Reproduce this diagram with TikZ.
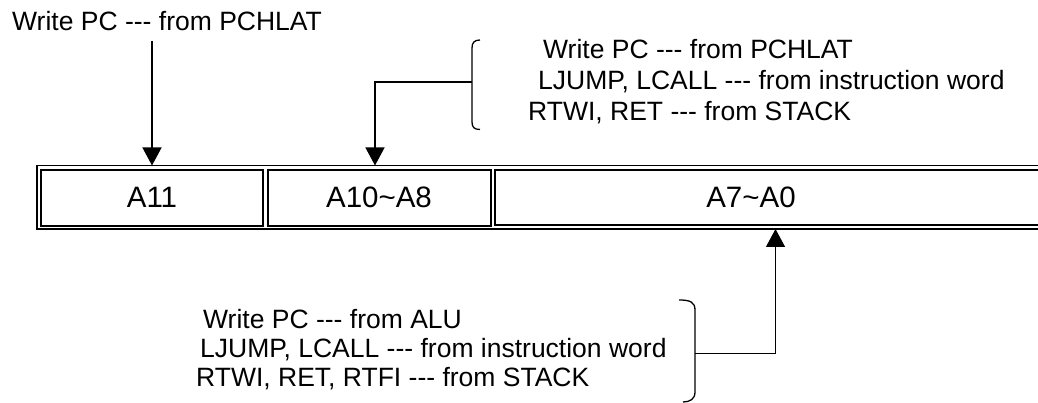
\documentclass[tikz,border=0pt]{standalone}
\usepackage{fontspec}
\newfontfamily\arialf{Liberation Sans}
\usetikzlibrary{arrows.meta}
\begin{document}
\begin{tikzpicture}[x=1pt,y=-1pt,
  lbl/.style={anchor=base west,inner sep=0pt,font=\arialf\fontsize{26.5}{30}\selectfont},
  celltxt/.style={inner sep=0pt,font=\arialf\fontsize{29.5}{32}\selectfont},
  cellbox/.style={draw,line width=2pt},
  conn/.style={line width=1.3pt},
  arr/.style={conn,-{Triangle[width=19pt,length=18pt]}},
  brace/.style={line width=1.3pt}]
\useasboundingbox (0,0) rectangle (1038,403);
% outer frame
\draw[line width=1.3pt] (1060,165.5) -- (37,165.5) -- (37,229) -- (1060,229);
% cells
\node[cellbox,minimum width=222pt,minimum height=55.5pt,inner sep=0pt] (c11) at (152,197.8) {};
\node[cellbox,minimum width=223pt,minimum height=55.5pt,inner sep=0pt] (c108) at (379,197.8) {};
\draw[cellbox] (1060,170) -- (494.5,170) -- (494.5,225.5) -- (1060,225.5);
\node[celltxt] (t11) at (152,197.8) {A11};
\node[celltxt] (t108) at (379,197.8) {A10\textasciitilde A8};
\node[celltxt] (t70) at (751,197.8) {A7\textasciitilde A0};
% top-left label and arrow
\node[lbl] (l1) at (12,31) {Write PC --- from PCHLAT};
\coordinate (a1s) at (152,41);
\coordinate (a1e) at (152,165.5);
\draw[arr] (a1s) -- (a1e);
% upper-right brace and labels
\node[lbl] (u1) at (543,59) {Write PC --- from PCHLAT};
\node[lbl] (u2) at (538,90) {LJUMP, LCALL --- from instruction word};
\node[lbl] (u3) at (528,121) {RTWI, RET --- from STACK};
\draw[brace] (480,40) .. controls (474,40) and (472,43) .. (472,48) -- (472,122) .. controls (472,127) and (474,129.5) .. (480,129.5);
\coordinate (b1) at (472,82);
\coordinate (a2e) at (375,165.5);
\draw[arr] (b1) -| (a2e);
% lower brace and labels
\node[lbl] (d1) at (203,328) {Write PC --- from ALU};
\node[lbl] (d2) at (200,357.5) {LJUMP, LCALL --- from instruction word};
\node[lbl] (d3) at (196,386) {RTWI, RET, RTFI --- from STACK};
\draw[brace] (679,300) .. controls (690,300) and (695,302) .. (695,310) -- (695,392) .. controls (695,399) and (690,402) .. (683,402);
\coordinate (b2) at (695,353.5);
\coordinate (a3e) at (775.5,229);
\draw[arr] (b2) -| (a3e);
\end{tikzpicture}
\end{document}
